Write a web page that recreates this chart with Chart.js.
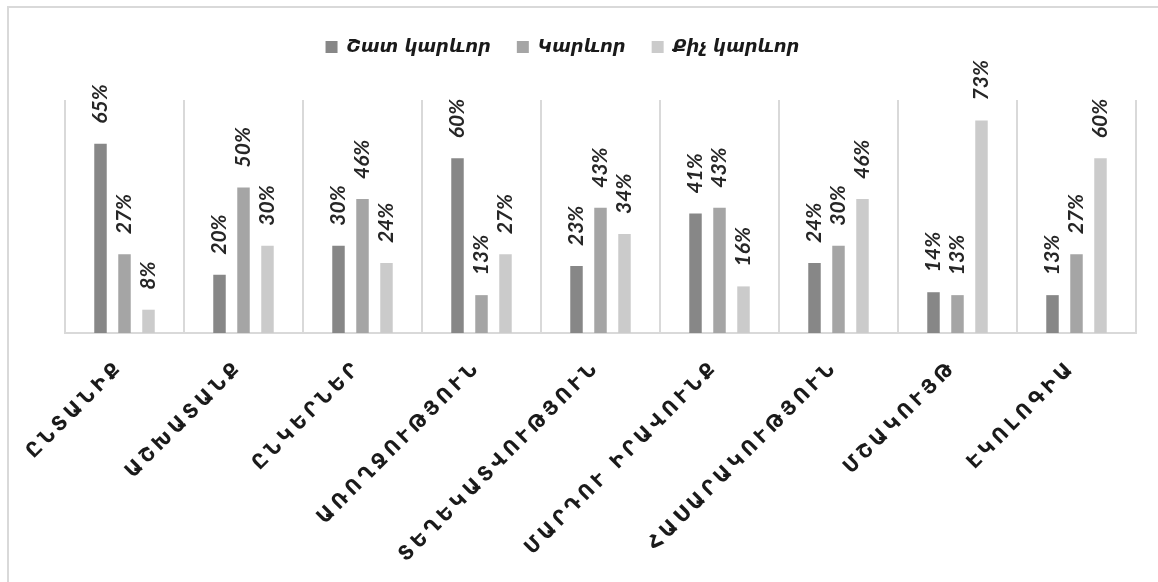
<!DOCTYPE html>
<html>
<head>
<meta charset="utf-8">
<script src="https://cdn.jsdelivr.net/npm/chart.js@4.4.1/dist/chart.umd.min.js"></script>
<style>
  html, body { margin: 0; padding: 0; background: #fff; }
  #wrap { width: 1158px; height: 582px; position: relative; }
</style>
</head>
<body>
<div id="wrap"><canvas id="c" width="1158" height="582"></canvas></div>
<script>
const categories = ["ԸՆՏԱՆԻՔ", "ԱՇԽԱՏԱՆՔ", "ԸՆԿԵՐՆԵՐ", "ԱՌՈՂՋՈՒԹՅՈՒՆ", "ՏԵՂԵԿԱՏՎՈՒԹՅՈՒՆ", "ՄԱՐԴՈՒ ԻՐԱՎՈՒՆՔ", "ՀԱՍԱՐԱԿՈՒԹՅՈՒՆ", "ՄՇԱԿՈՒՅԹ", "ԷԿՈԼՈԳԻԱ"];
const seriesNames = ["Շատ կարևոր", "Կարևոր", "Քիչ կարևոր"];
const veryImportant = [65, 20, 30, 60, 23, 41, 24, 14, 13];
const important = [27, 50, 46, 13, 43, 43, 30, 13, 27];
const lessImportant = [8, 30, 24, 27, 34, 16, 46, 73, 60];
const colors = ["#878787", "#a5a5a5", "#cbcbcb"];

const frame = {
  id: 'frame',
  beforeDraw(chart) {
    const ctx = chart.ctx;
    ctx.save();
    ctx.strokeStyle = '#d9d9d9';
    ctx.lineWidth = 2;
    ctx.beginPath();
    ctx.moveTo(8, 582);
    ctx.lineTo(8, 7);
    ctx.lineTo(1158, 7);
    ctx.stroke();
    ctx.restore();
  }
};

const legendFit = {
  id: 'legendFit',
  beforeInit(chart) {
    const orig = chart.legend.fit;
    chart.legend.fit = function () {
      orig.bind(chart.legend)();
      this.height = 88;
    };
  },
  afterLayout(chart) {
    chart.legend.left -= 38;
    chart.legend.right -= 38;
    const s = chart.scales.x;
    if (s && !s._lsPatched) {
      const orig = s.drawLabels;
      s.drawLabels = function (area) {
        const ctx = this.ctx;
        ctx.save();
        ctx.translate(-4, -1);
        ctx.letterSpacing = '4px';
        orig.call(this, area);
        ctx.restore();
      };
      s._lsPatched = true;
    }
  }
};

const valueLabels = {
  id: 'valueLabels',
  afterDatasetsDraw(chart) {
    const ctx = chart.ctx;
    ctx.save();
    ctx.font = 'italic bold 21px Lato, "Open Sans", sans-serif';
    ctx.fillStyle = '#262626';
    ctx.textAlign = 'left';
    ctx.textBaseline = 'middle';
    chart.data.datasets.forEach((ds, di) => {
      const meta = chart.getDatasetMeta(di);
      meta.data.forEach((bar, i) => {
        const txt = ds.data[i] + '%';
        ctx.save();
        ctx.translate(bar.x, bar.y - 20);
        ctx.rotate(-Math.PI / 2);
        ctx.fillText(txt, 0, 0);
        ctx.restore();
      });
    });
    ctx.restore();
  }
};

new Chart(document.getElementById('c'), {
  type: 'bar',
  data: {
    labels: categories,
    datasets: [
      { label: seriesNames[0], data: veryImportant, backgroundColor: colors[0] },
      { label: seriesNames[1], data: important, backgroundColor: colors[1] },
      { label: seriesNames[2], data: lessImportant, backgroundColor: colors[2] }
    ]
  },
  options: {
    responsive: false,
    animation: false,
    devicePixelRatio: 1,
    layout: { padding: { top: 12, left: 65, right: 22, bottom: 0 } },
    datasets: { bar: { categoryPercentage: 0.605, barPercentage: 0.52 } },
    scales: {
      x: {
        grid: { display: true, offset: true, color: '#d9d9d9', lineWidth: 2, drawTicks: false },
        border: { display: true, color: '#d9d9d9', width: 2 },
        ticks: {
          maxRotation: 45, minRotation: 45, autoSkip: false,
          padding: 24,
          color: '#1a1a1a',
          font: { family: '"DejaVu Sans", sans-serif', size: 20, weight: 'bold' }
        },
        afterFit(scale) { scale.height = 249; }
      },
      y: { display: false, min: 0, max: 80 }
    },
    plugins: {
      legend: {
        display: true,
        position: 'top',
        labels: {
          boxWidth: 12, boxHeight: 12, padding: 26,
          color: '#1a1a1a',
          font: { family: '"DejaVu Sans", sans-serif', size: 18, style: 'italic', weight: 'bold' }
        }
      },
      tooltip: { enabled: false }
    }
  },
  plugins: [frame, legendFit, valueLabels]
});
</script>
</body>
</html>
